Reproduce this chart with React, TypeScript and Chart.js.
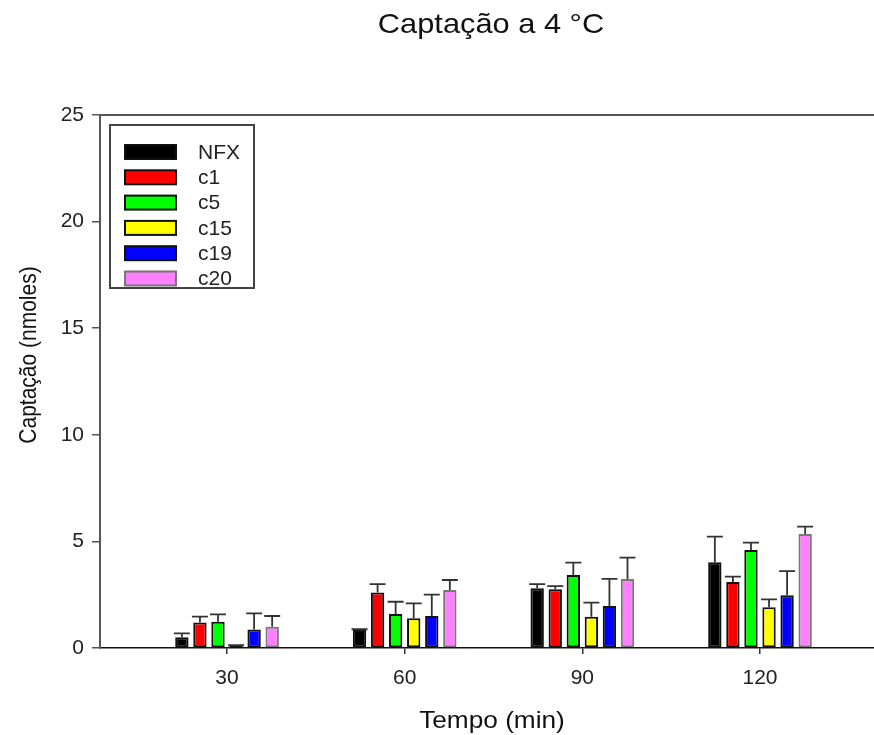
import React, { useEffect, useRef } from "react";
import { Chart, registerables } from "chart.js";

Chart.register(...registerables);

const categories = [30, 60, 90, 120];
const seriesNames = ["NFX", "c1", "c5", "c15", "c19", "c20"];
const nfx = [0.5, 0.84, 2.8, 4.02];
const nfxErr = [0.19, 0.04, 0.2, 1.2];
const c1 = [1.2, 2.6, 2.75, 3.1];
const c1Err = [0.27, 0.4, 0.15, 0.25];
const c5 = [1.23, 1.6, 3.42, 4.6];
const c5Err = [0.35, 0.57, 0.58, 0.34];
const c15 = [0.1, 1.39, 1.47, 1.91];
const c15Err = [0.03, 0.7, 0.66, 0.37];
const c19 = [0.87, 1.5, 1.97, 2.47];
const c19Err = [0.75, 1.0, 1.27, 1.14];
const c20 = [1.0, 2.72, 3.24, 5.35];
const c20Err = [0.5, 0.47, 1.0, 0.34];
const yTicks = [0, 5, 10, 15, 20, 25];

const titleText = "Captação a 4 °C";
const xTitleText = "Tempo (min)";
const yTitleText = "Captação (nmoles)";

const fillColors = ["#000000", "#ff0000", "#00ff00", "#ffff00", "#0000ff", "#ff80ff"];
const edgeColors = ["#111111", "#111111", "#111111", "#111111", "#111111", "#777777"];
const FONT = '"Liberation Sans", Arial, sans-serif';

const values = [nfx, c1, c5, c15, c19, c20];
const errors = [nfxErr, c1Err, c5Err, c15Err, c19Err, c20Err];

const errorBarPlugin = {
  id: "errorBars",
  afterDatasetsDraw(chart: any) {
    const ctx = chart.ctx;
    const yScale = chart.scales.y;
    ctx.save();
    ctx.strokeStyle = "#333333";
    ctx.lineWidth = 1.8;
    chart.data.datasets.forEach((ds: any, di: number) => {
      const meta = chart.getDatasetMeta(di);
      meta.data.forEach((el: any, i: number) => {
        const err = ds.errors[i];
        const v = ds.data[i].y;
        const yTop = yScale.getPixelForValue(v + err);
        const x = el.x;
        const capHalf = 8;
        ctx.beginPath();
        ctx.moveTo(x, el.y);
        ctx.lineTo(x, yTop);
        ctx.moveTo(x - capHalf, yTop);
        ctx.lineTo(x + capHalf, yTop);
        ctx.stroke();
      });
    });
    ctx.restore();
  },
};

const decorPlugin = {
  id: "decor",
  afterDraw(chart: any) {
    const ctx = chart.ctx;
    const ca = chart.chartArea;
    ctx.save();
    ctx.strokeStyle = "#555555";
    ctx.lineWidth = 2;
    ctx.beginPath();
    ctx.moveTo(ca.left, ca.top);
    ctx.lineTo(chart.width, ca.top);
    ctx.stroke();

    ctx.fillStyle = "#111111";
    ctx.save();
    ctx.translate(491, 33);
    ctx.scale(1.1, 1);
    ctx.font = `28px ${FONT}`;
    ctx.textAlign = "center";
    ctx.textBaseline = "alphabetic";
    ctx.fillText(titleText, 0, 0);
    ctx.restore();

    ctx.save();
    ctx.translate(492, 728);
    ctx.scale(1.07, 1);
    ctx.font = `24.5px ${FONT}`;
    ctx.textAlign = "center";
    ctx.textBaseline = "alphabetic";
    ctx.fillText(xTitleText, 0, 0);
    ctx.restore();

    ctx.save();
    ctx.translate(36, 355);
    ctx.scale(1.15, 1);
    ctx.rotate(-Math.PI / 2);
    ctx.font = `21px ${FONT}`;
    ctx.textAlign = "center";
    ctx.textBaseline = "alphabetic";
    ctx.fillText(yTitleText, 0, 0);
    ctx.restore();

    const bx = 110, by = 125, bw = 144, bh = 163;
    ctx.strokeStyle = "#444444";
    ctx.lineWidth = 2;
    ctx.fillStyle = "#ffffff";
    ctx.fillRect(bx, by, bw, bh);
    ctx.strokeRect(bx, by, bw, bh);
    ctx.font = `21px ${FONT}`;
    ctx.textAlign = "left";
    ctx.textBaseline = "middle";
    chart.data.datasets.forEach((ds: any, i: number) => {
      const cy = 152 + i * 25.3;
      ctx.fillStyle = ds.backgroundColor;
      ctx.fillRect(125, cy - 7, 51, 14);
      ctx.strokeStyle = ds.borderColor;
      ctx.lineWidth = 2;
      ctx.strokeRect(125, cy - 7, 51, 14);
      ctx.fillStyle = "#222222";
      ctx.fillText(ds.label, 198, cy + 1);
    });
    ctx.restore();
  },
};

export default function App() {
  const ref = useRef<HTMLCanvasElement | null>(null);
  useEffect(() => {
    if (!ref.current) return;
    const datasets = seriesNames.map((name, si) => ({
      label: name,
      data: values[si].map((v, i) => ({ x: categories[i], y: v })),
      errors: errors[si],
      backgroundColor: fillColors[si],
      borderColor: edgeColors[si],
      borderWidth: 2,
      borderSkipped: false,
      categoryPercentage: 0.61,
      barPercentage: 0.74,
    }));
    const chart = new Chart(ref.current, {
      type: "bar",
      data: { datasets } as any,
      options: {
        responsive: false,
        animation: false,
        devicePixelRatio: 1,
        layout: { padding: { top: 115, left: 0, right: 0, bottom: 0 } },
        plugins: {
          legend: { display: false },
          title: { display: false },
          tooltip: { enabled: false },
        },
        scales: {
          x: {
            type: "linear",
            offset: false,
            min: 8.55,
            max: 139.25,
            afterBuildTicks: (s: any) => {
              s.ticks = categories.map((v) => ({ value: v }));
            },
            afterFit: (s: any) => {
              s.height = 87;
            },
            grid: {
              display: true,
              offset: false,
              drawOnChartArea: false,
              drawTicks: true,
              tickLength: 6,
              color: "#333333",
              lineWidth: 1.5,
            },
            border: { display: true, color: "#111111", width: 1.5 },
            ticks: {
              padding: 12,
              color: "#222222",
              font: { size: 21, family: FONT },
              maxRotation: 0,
              callback: (v: any) => String(v),
            },
          },
          y: {
            min: 0,
            max: 25,
            afterBuildTicks: (s: any) => {
              s.ticks = yTicks.map((v) => ({ value: v }));
            },
            afterFit: (s: any) => {
              s.width = 100;
            },
            grid: {
              display: true,
              drawOnChartArea: false,
              drawTicks: true,
              tickLength: 8,
              color: "#555555",
              lineWidth: 1.5,
            },
            border: { display: true, color: "#555555", width: 2 },
            ticks: {
              padding: 8,
              color: "#222222",
              font: { size: 21, family: FONT },
            },
          },
        },
      } as any,
      plugins: [errorBarPlugin, decorPlugin],
    });
    return () => chart.destroy();
  }, []);
  return (
    <div style={{ position: "absolute", left: 0, top: 0, width: 874, height: 735, background: "#fff" }}>
      <canvas ref={ref} width={874} height={735} style={{ display: "block" }} />
    </div>
  );
}
